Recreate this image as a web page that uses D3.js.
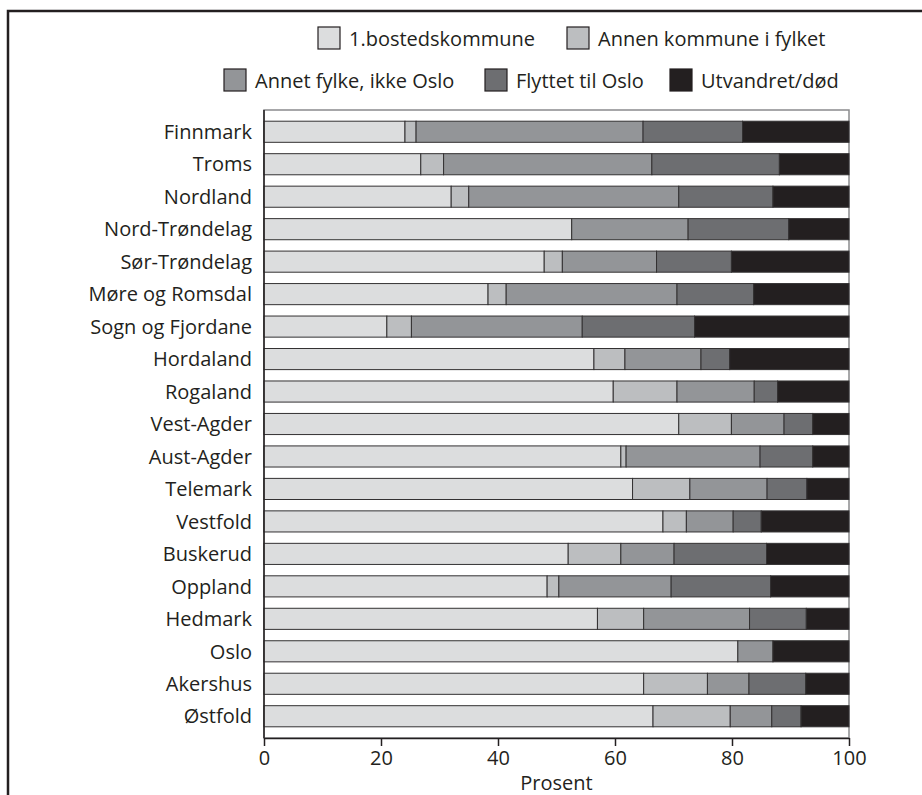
<!DOCTYPE html>
<html>
<head>
<meta charset="utf-8">
<script src="https://cdn.jsdelivr.net/npm/d3@7"></script>
<style>
  html, body { margin: 0; padding: 0; background: #fff; }
  svg { display: block; }
  text { font-family: "Open Sans", "Noto Sans", sans-serif; fill: #231f20; }
</style>
</head>
<body>
<svg id="chart" width="922" height="795"></svg>
<script>
const categories = ["Finnmark","Troms","Nordland","Nord-Trøndelag","Sør-Trøndelag","Møre og Romsdal","Sogn og Fjordane","Hordaland","Rogaland","Vest-Agder","Aust-Agder","Telemark","Vestfold","Buskerud","Oppland","Hedmark","Oslo","Akershus","Østfold"];
const seriesNames = ["1.bostedskommune","Annen kommune i fylket","Annet fylke, ikke Oslo","Flyttet til Oslo","Utvandret/død"];
const bostedskommune = [24.1, 26.8, 32.0, 52.6, 47.9, 38.3, 21.0, 56.4, 59.7, 70.9, 61.0, 63.0, 68.2, 52.0, 48.4, 57.0, 81.0, 64.9, 66.5];
const annenKommune   = [1.9, 3.9, 3.0, 0, 3.1, 3.1, 4.2, 5.3, 10.9, 9.0, 0.9, 9.8, 4.0, 9.0, 2.0, 7.9, 0, 10.9, 13.2];
const annetFylke     = [38.8, 35.6, 35.9, 19.9, 16.1, 29.2, 29.2, 13.0, 13.2, 9.0, 22.9, 13.2, 8.0, 9.1, 19.2, 18.1, 6.0, 7.1, 7.1];
const flyttetOslo    = [17.0, 21.8, 16.1, 17.2, 12.8, 13.1, 19.2, 4.9, 4.0, 4.9, 9.0, 6.8, 4.8, 15.8, 17.0, 9.7, 0, 9.7, 5.0];
const utvandretDod   = [18.2, 11.9, 13.0, 10.3, 20.1, 16.3, 26.4, 20.4, 12.2, 6.2, 6.2, 7.2, 15.0, 14.1, 13.4, 7.3, 13.0, 7.4, 8.2];
const xTicks = [0, 20, 40, 60, 80, 100];
const xLabel = "Prosent";
const colors = ["#dcddde", "#bcbec0", "#939598", "#6d6e71", "#231f20"];

const seriesArrays = [bostedskommune, annenKommune, annetFylke, flyttetOslo, utvandretDod];
const rows = categories.map((c, i) => {
  const r = { cat: c };
  seriesNames.forEach((s, j) => r[s] = seriesArrays[j][i]);
  return r;
});

const svg = d3.select("#chart");

// outer frame
svg.append("rect")
  .attr("x", 8).attr("y", 11).attr("width", 940).attr("height", 820)
  .attr("fill", "none").attr("stroke", "#231f20").attr("stroke-width", 2.5);

const x = d3.scaleLinear().domain([0, 100]).range([264, 849]);
const y = d3.scaleBand().domain(categories).range([110, 738])
  .paddingInner(0.35).paddingOuter(0.345);

// plot frame
svg.append("rect")
  .attr("x", x(0)).attr("y", 110).attr("width", x(100) - x(0)).attr("height", 738 - 110)
  .attr("fill", "none").attr("stroke", "#8a8b8d").attr("stroke-width", 1.5);

const stack = d3.stack().keys(seriesNames);
const stacked = stack(rows);

const g = svg.append("g");
stacked.forEach((layer, li) => {
  g.selectAll(null)
    .data(layer.filter(d => d[1] - d[0] > 0))
    .enter().append("rect")
    .attr("x", d => x(d[0]))
    .attr("y", d => y(d.data.cat))
    .attr("width", d => x(d[1]) - x(d[0]))
    .attr("height", y.bandwidth())
    .attr("fill", colors[li])
    .attr("stroke", "#333132")
    .attr("stroke-width", 1);
});

// category labels
svg.append("g").selectAll("text")
  .data(categories).enter().append("text")
  .attr("x", 252)
  .attr("y", d => y(d) + y.bandwidth() / 2)
  .attr("dy", "0.36em")
  .attr("text-anchor", "end")
  .attr("font-size", 20)
  .text(d => d);

// x axis
const xAxis = d3.axisBottom(x).tickValues(xTicks).tickSize(8).tickPadding(5).tickSizeOuter(0);
const ax = svg.append("g").attr("transform", "translate(0,738)").call(xAxis);
ax.select(".domain").attr("stroke", "#231f20").attr("stroke-width", 1.5);
ax.selectAll(".tick line").attr("stroke", "#231f20").attr("stroke-width", 1.5);
ax.selectAll(".tick text").attr("font-size", 20).attr("font-family", "'Open Sans', 'Noto Sans', sans-serif").attr("fill", "#231f20");

// left axis line
svg.append("line")
  .attr("x1", x(0)).attr("x2", x(0)).attr("y1", 110).attr("y2", 738)
  .attr("stroke", "#231f20").attr("stroke-width", 1.5);

svg.append("text")
  .attr("x", x(50)).attr("y", 790)
  .attr("text-anchor", "middle").attr("font-size", 20)
  .text(xLabel);

// legend
const legendPos = [
  { sx: 318, sy: 27 },
  { sx: 567, sy: 27 },
  { sx: 224, sy: 69 },
  { sx: 485, sy: 69 },
  { sx: 670, sy: 69 }
];
const leg = svg.append("g");
seriesNames.forEach((s, i) => {
  const p = legendPos[i];
  leg.append("rect")
    .attr("x", p.sx).attr("y", p.sy).attr("width", 22).attr("height", 22)
    .attr("fill", colors[i]).attr("stroke", "#231f20").attr("stroke-width", 1.2);
  leg.append("text")
    .attr("x", p.sx + 31).attr("y", p.sy + 19)
    .attr("font-size", 20)
    .text(s);
});
</script>
</body>
</html>
